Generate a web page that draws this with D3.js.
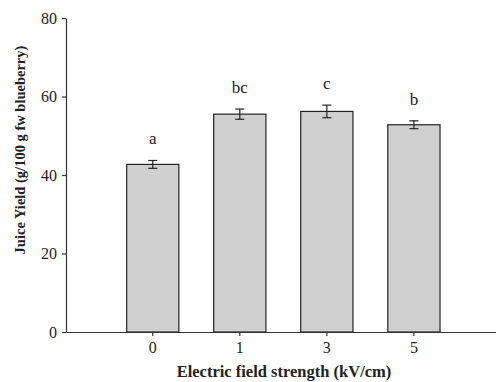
<!DOCTYPE html>
<html>
<head>
<meta charset="utf-8">
<script src="https://cdn.jsdelivr.net/npm/d3@7"></script>
<style>
  body { margin: 0; background: #fff; }
  svg text { font-family: "Liberation Serif", "DejaVu Serif", serif; fill: #222; }
</style>
</head>
<body>
<div id="chart"></div>
<script>
var categories = ["0", "1", "3", "5"];
var yieldValues = [42.7, 55.5, 56.2, 52.8];
var yieldErrors = [1.0, 1.3, 1.6, 1.0];
var groupLetters = ["a", "bc", "c", "b"];
var yTicks = [0, 20, 40, 60, 80];

var width = 496, height = 382;
var margin = {top: 18, right: 0, bottom: 50, left: 66};

var svg = d3.select("#chart").append("svg")
    .attr("width", width).attr("height", height);

var x = d3.scaleBand()
    .domain(categories)
    .range([margin.left, width - margin.right])
    .paddingInner(0.4)
    .paddingOuter(0.67)
    .align(0.52);

var y = d3.scaleLinear()
    .domain([0, 80])
    .range([height - margin.bottom, margin.top]);

var data = categories.map(function(c, i){
  return {cat: c, val: yieldValues[i], err: yieldErrors[i], letter: groupLetters[i]};
});

// bars
svg.append("g").selectAll("rect")
    .data(data)
  .enter().append("rect")
    .attr("x", function(d){ return x(d.cat); })
    .attr("y", function(d){ return y(d.val); })
    .attr("width", x.bandwidth())
    .attr("height", function(d){ return y(0) - y(d.val); })
    .style("fill", "#d0d0d0")
    .style("stroke", "#222")
    .style("stroke-width", "1.2px");

// error bars
var eb = svg.append("g").selectAll("g")
    .data(data)
  .enter().append("g")
    .style("stroke", "#222")
    .style("stroke-width", "1.2px");

eb.append("line")
    .attr("x1", function(d){ return x(d.cat) + x.bandwidth()/2; })
    .attr("x2", function(d){ return x(d.cat) + x.bandwidth()/2; })
    .attr("y1", function(d){ return y(d.val + d.err); })
    .attr("y2", function(d){ return y(d.val - d.err); });
[1, -1].forEach(function(s){
  eb.append("line")
      .attr("x1", function(d){ return x(d.cat) + x.bandwidth()/2 - 4.5; })
      .attr("x2", function(d){ return x(d.cat) + x.bandwidth()/2 + 4.5; })
      .attr("y1", function(d){ return y(d.val + s*d.err); })
      .attr("y2", function(d){ return y(d.val + s*d.err); });
});

// significance letters
svg.append("g").selectAll("text")
    .data(data)
  .enter().append("text")
    .attr("x", function(d){ return x(d.cat) + x.bandwidth()/2; })
    .attr("y", function(d){ return y(d.val + d.err) - 16; })
    .attr("text-anchor", "middle")
    .style("font-size", "17px")
    .text(function(d){ return d.letter; });

// axes
var xAxis = svg.append("g")
    .attr("transform", "translate(0," + y(0) + ")")
    .call(d3.axisBottom(x).tickSize(4).tickSizeOuter(0).tickPadding(6));
var yAxis = svg.append("g")
    .attr("transform", "translate(" + margin.left + ",0)")
    .call(d3.axisLeft(y).tickValues(yTicks).tickSize(4).tickSizeOuter(0).tickPadding(5));

[xAxis, yAxis].forEach(function(a){
  a.selectAll("path, line").style("stroke", "#333").style("stroke-width", "1.2px");
  a.selectAll("text")
      .style("font-family", "'Liberation Serif', serif")
      .style("font-size", "16px")
      .style("fill", "#222");
});

// axis titles
svg.append("text")
    .attr("x", 284)
    .attr("y", 377)
    .attr("text-anchor", "middle")
    .style("font-size", "16.5px")
    .style("font-weight", "bold")
    .text("Electric field strength (kV/cm)");

svg.append("text")
    .attr("transform", "translate(25,150) rotate(-90)")
    .attr("text-anchor", "middle")
    .style("font-size", "14.5px")
    .style("font-weight", "bold")
    .text("Juice Yield (g/100 g fw blueberry)");
</script>
</body>
</html>
